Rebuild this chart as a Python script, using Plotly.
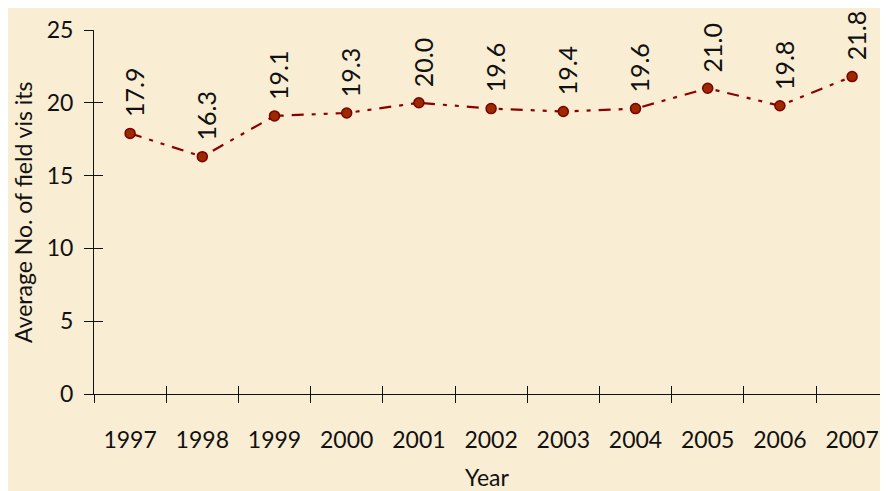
import plotly.graph_objects as go

years = [1997, 1998, 1999, 2000, 2001, 2002, 2003, 2004, 2005, 2006, 2007]
year_labels = [str(y) for y in years]
avg_visits = [17.9, 16.3, 19.1, 19.3, 20.0, 19.6, 19.4, 19.6, 21.0, 19.8, 21.8]
value_labels = [f"{v:.1f}" for v in avg_visits]
y_ticks = [0, 5, 10, 15, 20, 25]

boundaries = [y - 0.5 for y in years] + [years[-1] + 0.5]
x_range = [years[0] - 0.5, years[0] - 0.5 + 786 / 72.2]
y_range = [0, 25]

FONT = "Lato"
BG = "#F9EDD3"
AX = "#111111"

fig = go.Figure()
fig.add_trace(go.Scatter(
    x=years, y=avg_visits, mode="lines+markers",
    line=dict(color="#8B0000", width=2.2, dash="12px,8px,4px,8px,4px,8px"),
    marker=dict(size=10, color="#9C2A00", line=dict(color="#7A0000", width=1.5)),
    showlegend=False, hoverinfo="x+y", cliponaxis=False,
))
fig.add_trace(go.Scatter(x=[], y=[], xaxis="x2", yaxis="y2", showlegend=False))

for x, y, t in zip(years, avg_visits, value_labels):
    fig.add_annotation(
        x=x, y=y, text=t, textangle=-90, showarrow=False,
        xanchor="center", yanchor="bottom", yshift=14, xshift=4,
        font=dict(family=FONT, size=25, color=AX),
    )

# y-axis title placed as a rotated paper annotation
fig.add_annotation(
    x=0, y=0.5, xref="paper", yref="paper", text="Average No. of field vis its",
    textangle=-90, showarrow=False, xanchor="center", yanchor="middle", xshift=-71,
    font=dict(family=FONT, size=23, color=AX),
)

fig.update_layout(
    width=872, height=483,
    margin=dict(l=86, r=0, t=22, b=97),
    paper_bgcolor=BG, plot_bgcolor=BG,
    font=dict(family=FONT, color=AX),
    xaxis=dict(
        range=x_range, tickmode="array", tickvals=years, ticktext=year_labels,
        ticks="", showgrid=False, zeroline=False,
        showline=True, linecolor=AX, linewidth=1,
        tickfont=dict(family=FONT, size=23, color=AX),
        ticklabelstandoff=25,
        minor=dict(tickmode="array", tickvals=boundaries, ticks="outside",
                   ticklen=8, tickcolor=AX, tickwidth=1, showgrid=False),
        title=dict(text="Year", font=dict(family=FONT, size=23, color=AX), standoff=20),
    ),
    yaxis=dict(
        range=y_range, tickmode="array", tickvals=y_ticks,
        ticks="outside", ticklen=9, tickcolor=AX, tickwidth=1,
        showgrid=False, zeroline=False,
        showline=True, linecolor=AX, linewidth=1,
        tickfont=dict(family=FONT, size=23, color=AX),
        ticklabelstandoff=6,
    ),
    xaxis2=dict(
        overlaying="x", anchor="y2", range=x_range, tickmode="array",
        tickvals=boundaries, ticks="inside", ticklen=8, tickcolor=AX, tickwidth=1,
        showticklabels=False, showgrid=False, zeroline=False, showline=False,
    ),
    yaxis2=dict(
        overlaying="y", anchor="x2", range=y_range, tickmode="array",
        tickvals=y_ticks, ticks="inside", ticklen=9, tickcolor=AX, tickwidth=1,
        showticklabels=False, showgrid=False, zeroline=False, showline=False,
    ),
)

fig.write_html("out.html")
